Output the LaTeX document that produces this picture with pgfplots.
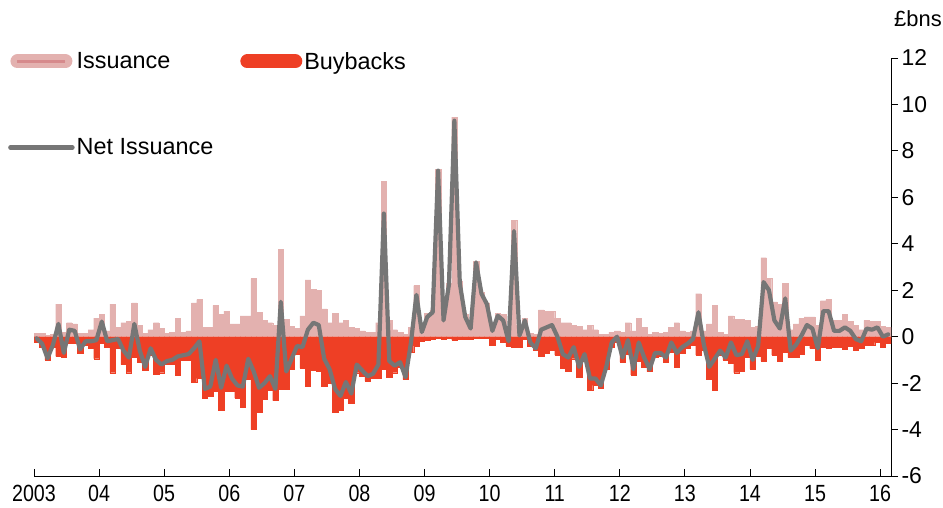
\documentclass[border=0pt]{standalone}
\usepackage{fontspec}
\setmainfont{Liberation Sans}
\usepackage{graphicx}
\usepackage{pgfplots}
\usepackage{pgfplotstable}
\pgfplotsset{compat=1.18}
\definecolor{isscol}{HTML}{E3B1AF}
\definecolor{issdark}{HTML}{D68A8C}
\definecolor{buycol}{HTML}{EE3F25}
\definecolor{netcol}{HTML}{767676}
\newcommand{\xl}[1]{\scalebox{0.84}[1]{#1}}

% m = months since Jan 2003; issuance, buybacks, net issuance (GBP bn)
\pgfplotstableread{
m iss buy net
0 0.15 -0.22 -0.07
1 0.15 -0.45 -0.30
2 0.07 -1.00 -0.93
3 0.10 -0.45 -0.35
4 1.40 -0.85 0.55
5 0.20 -0.90 -0.70
6 0.60 -0.30 0.30
7 0.55 -0.30 0.25
8 0.15 -0.70 -0.55
9 0.15 -0.35 -0.20
10 0.30 -0.50 -0.20
11 0.80 -0.95 -0.15
12 0.95 -0.30 0.65
13 0.25 -0.45 -0.20
14 1.40 -1.55 -0.15
15 0.40 -0.50 -0.10
16 0.60 -1.20 -0.60
17 0.65 -1.55 -0.90
18 1.45 -0.90 0.55
19 0.50 -1.10 -0.60
20 0.15 -1.45 -1.30
21 0.30 -0.80 -0.50
22 0.60 -1.60 -1.00
23 0.35 -1.55 -1.20
24 0.15 -1.20 -1.05
25 0.20 -1.20 -1.00
26 0.80 -1.65 -0.85
27 0.20 -1.00 -0.80
28 0.25 -1.00 -0.75
29 1.45 -1.95 -0.50
30 1.60 -1.80 -0.20
31 0.40 -2.65 -2.25
32 0.40 -2.55 -2.15
33 1.35 -2.35 -1.00
34 0.95 -3.15 -2.20
35 1.10 -2.35 -1.25
36 0.55 -2.35 -1.80
37 0.55 -2.65 -2.10
38 0.90 -3.05 -2.15
39 0.90 -1.85 -0.95
40 2.50 -4.00 -1.50
41 1.05 -3.25 -2.20
42 0.70 -2.70 -2.00
43 0.60 -2.30 -1.70
44 0.50 -2.75 -2.25
45 3.75 -2.25 1.50
46 0.75 -2.25 -1.50
47 0.45 -1.40 -0.95
48 0.35 -0.75 -0.40
49 0.90 -1.35 -0.45
50 2.45 -2.15 0.30
51 2.05 -1.45 0.60
52 2.00 -1.50 0.50
53 1.20 -2.15 -0.95
54 0.60 -2.00 -1.40
55 1.00 -3.25 -2.25
56 0.60 -3.15 -2.55
57 0.70 -2.65 -1.95
58 0.40 -2.85 -2.45
59 0.35 -1.55 -1.20
60 0.25 -1.70 -1.45
61 0.20 -1.90 -1.70
62 0.20 -1.80 -1.60
63 0.60 -1.80 -1.20
64 6.70 -1.40 5.30
65 0.70 -1.75 -1.05
66 0.30 -1.55 -1.25
67 0.20 -1.30 -1.10
68 0.10 -1.85 -1.75
69 0.40 -0.65 -0.25
70 2.20 -0.40 1.80
71 0.40 -0.20 0.20
72 1.00 -0.15 0.85
73 1.15 -0.10 1.05
74 7.20 -0.05 7.15
75 0.80 -0.10 0.70
76 2.30 -0.05 2.25
77 9.45 -0.15 9.30
78 2.40 -0.10 2.30
79 0.95 -0.10 0.85
80 0.45 -0.10 0.35
81 3.25 -0.05 3.20
82 1.90 -0.05 1.85
83 1.45 -0.05 1.40
84 0.60 -0.35 0.25
85 1.00 -0.10 0.90
86 0.95 -0.25 0.70
87 0.20 -0.40 -0.20
88 5.00 -0.45 4.55
89 0.50 -0.45 0.05
90 0.80 -0.10 0.70
91 0.15 -0.40 -0.25
92 0.10 -0.60 -0.50
93 1.15 -0.85 0.30
94 1.10 -0.70 0.40
95 1.10 -0.60 0.50
96 0.80 -0.80 0.00
97 0.60 -1.35 -0.75
98 0.60 -1.50 -0.90
99 0.50 -0.95 -0.45
100 0.45 -1.75 -1.30
101 0.30 -1.05 -0.75
102 0.50 -2.30 -1.80
103 0.30 -2.10 -1.80
104 0.10 -2.20 -2.10
105 0.10 -1.40 -1.30
106 0.20 -0.45 -0.25
107 0.25 -0.25 0.00
108 0.20 -1.10 -0.90
109 0.60 -0.75 -0.15
110 0.25 -1.65 -1.40
111 0.80 -1.05 -0.25
112 0.40 -1.30 -0.90
113 0.10 -1.50 -1.40
114 0.20 -0.90 -0.70
115 0.15 -0.85 -0.70
116 0.20 -1.10 -0.90
117 0.40 -0.65 -0.25
118 0.60 -1.30 -0.70
119 0.25 -0.70 -0.45
120 0.20 -0.50 -0.30
121 0.25 -0.35 -0.10
122 1.85 -0.80 1.05
123 0.25 -0.60 -0.35
124 0.55 -1.85 -1.30
125 1.35 -2.30 -0.95
126 0.20 -0.80 -0.60
127 0.10 -1.00 -0.90
128 0.90 -1.15 -0.25
129 0.75 -1.55 -0.80
130 0.75 -1.50 -0.75
131 0.70 -0.90 -0.20
132 0.40 -1.40 -1.00
133 0.45 -0.85 -0.40
134 3.40 -1.05 2.35
135 2.50 -0.50 2.00
136 1.50 -0.80 0.70
137 1.40 -1.05 0.35
138 2.30 -0.65 1.65
139 0.30 -0.90 -0.60
140 0.55 -0.90 -0.35
141 0.80 -0.75 0.05
142 0.85 -0.35 0.50
143 0.85 -0.50 0.35
144 0.50 -1.00 -0.50
145 1.55 -0.45 1.10
146 1.60 -0.50 1.10
147 0.70 -0.45 0.25
148 0.70 -0.45 0.25
149 0.95 -0.55 0.40
150 0.65 -0.40 0.25
151 0.50 -0.60 -0.10
152 0.30 -0.50 -0.20
153 0.70 -0.35 0.35
154 0.65 -0.35 0.30
155 0.65 -0.25 0.40
156 0.45 -0.45 0.00
157 0.40 -0.30 0.10
}\datatable

\begin{document}
\begin{tikzpicture}[font=\fontsize{23.5}{28}\selectfont]
\useasboundingbox (-34bp,-32bp) rectangle (909bp,476bp);
\begin{axis}[
  name=ax,
  scale only axis, width=857bp, height=418bp,
  xmin=-0.5, xmax=157.5, ymin=-6, ymax=12,
  axis x line*=bottom, axis y line*=right,
  axis line style={-, black, line width=0.8bp},
  xtick={-0.5,11.5,...,155.5},
  xticklabels={\xl{2003},\xl{04},\xl{05},\xl{06},\xl{07},\xl{08},\xl{09},\xl{10},\xl{11},\xl{12},\xl{13},\xl{14},\xl{15},\xl{16}},
  ytick={-6,-4,...,12},
  xtick align=inside, ytick align=outside,
  major tick length=7bp,
  tick style={black, line width=0.8bp},
  xticklabel style={yshift=-6bp},
  yticklabel style={font=\fontsize{23}{28}\selectfont},
  /pgf/number format/assume math mode=true,
  legend columns=2,
  legend style={draw=none, fill=none, at={(0,1)}, anchor=north west,
    xshift=-29bp, yshift=9bp, row sep=66bp,
    /tikz/every even column/.append style={column sep=25bp},
    nodes={inner xsep=2bp, inner ysep=1bp, anchor=west}},
]
\addplot[ybar, bar width=1, bar shift=0pt, fill=isscol, draw=isscol, line width=0.3bp,
  legend image code/.code={
    \draw[line width=14bp, line cap=round, isscol] (7bp,0) -- (55bp,0);
    \draw[line width=3.5bp, issdark] (7bp,0) -- (55bp,0);}]
  table[x=m, y=iss]{\datatable};
\addlegendentry{Issuance}
\addplot[ybar, bar width=1, bar shift=0pt, fill=buycol, draw=buycol, line width=0.3bp,
  legend image code/.code={
    \draw[line width=14bp, line cap=round, buycol] (7bp,0) -- (55bp,0);}]
  table[x=m, y=buy]{\datatable};
\addlegendentry{Buybacks}
\addplot[netcol, line width=4.2bp, line join=round, line cap=round, mark=none,
  legend image code/.code={
    \draw[line width=4.5bp, netcol] (0bp,0) -- (62bp,0);}]
  table[x=m, y=net]{\datatable};
\addlegendentry{Net Issuance}
\end{axis}
\node[anchor=base west, inner sep=0pt, font=\fontsize{22}{26}\selectfont] at ([xshift=3bp, yshift=31bp]ax.north east) {£bns};
\end{tikzpicture}
\end{document}
